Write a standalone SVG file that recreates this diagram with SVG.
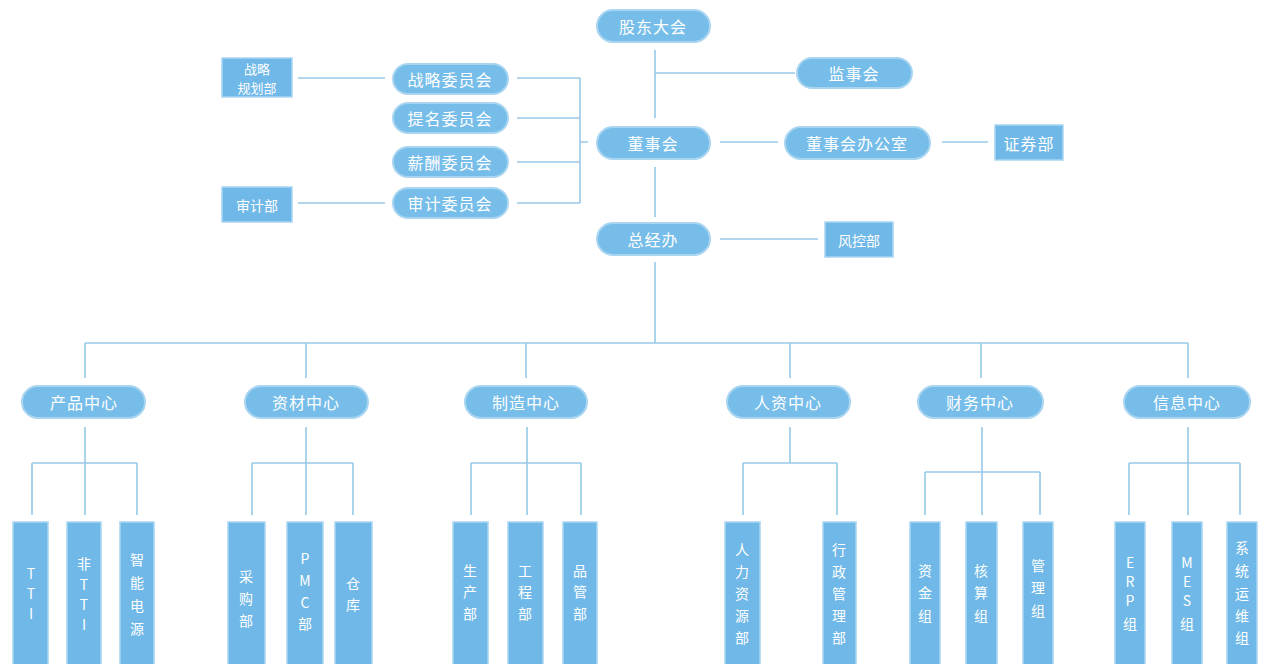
<svg xmlns="http://www.w3.org/2000/svg" width="1265" height="664" viewBox="0 0 1265 664">
<style>
.pill{fill:#76bde9;stroke:#a9d5f1;stroke-width:2}
.box{fill:#6fb8e7;stroke:#a9d5f1;stroke-width:1.5}
.ln{stroke:#98c9e8;stroke-width:1.6;fill:none}
.pt{font-family:"Noto Sans CJK SC","Noto Sans",sans-serif;font-size:16px;fill:#ffffff;text-anchor:middle;dominant-baseline:central;letter-spacing:1px}
.bt{font-family:"Noto Sans CJK SC","Noto Sans",sans-serif;font-size:14px;fill:#ffffff;text-anchor:middle;dominant-baseline:central}
.st{font-family:"Noto Sans CJK SC","Noto Sans",sans-serif;font-size:13px;fill:#ffffff;text-anchor:middle;dominant-baseline:central}
</style>
<rect width="1265" height="664" fill="#ffffff"/>
<g id="connectors">
<path class="ln" d="M655 50V118M655 73H795M655 167V217M720 142H778M942 142H988M720 239H818M655 262V343"/>
<path class="ln" d="M298 78H385M298 203H385M517 78H580M517 118H580M517 162H580M517 203H580M580 78V203M580 142H588"/>
<path class="ln" d="M85 343H1188M85 343V378M306 343V378M526 343V378M790 343V378M981 343V378M1188 343V378"/>
<path class="ln" d="M85 427V515M32 463H137M32 463V515M137 463V515"/>
<path class="ln" d="M306 427V515M252 463H353M252 463V515M353 463V515"/>
<path class="ln" d="M527 427V515M471 463H581M471 463V515M581 463V515"/>
<path class="ln" d="M790 427V463M743 463H837M743 463V515M837 463V515"/>
<path class="ln" d="M982 427V515M925 472H1040M925 472V515M1040 472V515"/>
<path class="ln" d="M1188 427V515M1129 463H1240M1129 463V515M1240 463V515"/>
</g>
<g id="gudong"><rect class="pill" x="597" y="10" width="113" height="32" rx="16"/><text class="pt" x="653" y="26">股东大会</text></g>
<g id="jianshi"><rect class="pill" x="797" y="58" width="115" height="30" rx="15"/><text class="pt" x="854" y="73">监事会</text></g>
<g id="dongshi"><rect class="pill" x="597" y="127" width="113" height="32" rx="16"/><text class="pt" x="653" y="143">董事会</text></g>
<g id="dongban"><rect class="pill" x="785" y="127" width="145" height="32" rx="16"/><text class="pt" x="857" y="143">董事会办公室</text></g>
<g id="zhengquan"><rect class="box" x="995" y="125" width="68" height="35"/><text class="pt" x="1029" y="143">证券部</text></g>
<g id="zongjing"><rect class="pill" x="597" y="223" width="113" height="32" rx="16"/><text class="pt" x="653" y="239">总经办</text></g>
<g id="fengkong"><rect class="box" x="825" y="222" width="68" height="35"/><text class="bt" x="859" y="240">风控部</text></g>
<g id="zhanlue-wyh"><rect class="pill" x="393" y="64" width="115" height="30" rx="15"/><text class="pt" x="450" y="79">战略委员会</text></g>
<g id="timing-wyh"><rect class="pill" x="393" y="103" width="115" height="30" rx="15"/><text class="pt" x="450" y="118">提名委员会</text></g>
<g id="xinchou-wyh"><rect class="pill" x="393" y="147" width="115" height="30" rx="15"/><text class="pt" x="450" y="162">薪酬委员会</text></g>
<g id="shenji-wyh"><rect class="pill" x="393" y="188" width="115" height="30" rx="15"/><text class="pt" x="450" y="203">审计委员会</text></g>
<g id="zhanlue-bu"><rect class="box" x="222" y="58" width="70" height="39"/><text class="st" x="257" y="68">战略</text><text class="st" x="257" y="87">规划部</text></g>
<g id="shenji-bu"><rect class="box" x="222" y="187" width="70" height="35"/><text class="bt" x="257" y="205">审计部</text></g>
<g id="chanpin"><rect class="pill" x="22" y="386" width="123" height="32" rx="16"/><text class="pt" x="84" y="402">产品中心</text></g>
<g id="zicai"><rect class="pill" x="245" y="386" width="123" height="32" rx="16"/><text class="pt" x="306" y="402">资材中心</text></g>
<g id="zhizao"><rect class="pill" x="465" y="386" width="122" height="32" rx="16"/><text class="pt" x="526" y="402">制造中心</text></g>
<g id="renzi"><rect class="pill" x="727" y="386" width="123" height="32" rx="16"/><text class="pt" x="788" y="402">人资中心</text></g>
<g id="caiwu"><rect class="pill" x="918" y="386" width="125" height="32" rx="16"/><text class="pt" x="980" y="402">财务中心</text></g>
<g id="xinxi"><rect class="pill" x="1124" y="386" width="126" height="32" rx="16"/><text class="pt" x="1187" y="402">信息中心</text></g>
<g id="tti"><rect class="box" x="13" y="522" width="35" height="150"/><text class="bt"><tspan x="31" y="573">T</tspan><tspan x="31" y="593">T</tspan><tspan x="31" y="613">I</tspan></text></g>
<g id="feitti"><rect class="box" x="67" y="522" width="34" height="150"/><text class="bt"><tspan x="84" y="563">非</tspan><tspan x="84" y="584">T</tspan><tspan x="84" y="604">T</tspan><tspan x="84" y="624">I</tspan></text></g>
<g id="zhineng"><rect class="box" x="120" y="522" width="34" height="150"/><text class="bt"><tspan x="137" y="559">智</tspan><tspan x="137" y="582">能</tspan><tspan x="137" y="605">电</tspan><tspan x="137" y="628">源</tspan></text></g>
<g id="caigou"><rect class="box" x="228" y="522" width="37" height="150"/><text class="bt"><tspan x="246" y="576">采</tspan><tspan x="246" y="598">购</tspan><tspan x="246" y="620">部</tspan></text></g>
<g id="pmc"><rect class="box" x="287" y="522" width="36" height="150"/><text class="bt"><tspan x="305" y="558">P</tspan><tspan x="305" y="580">M</tspan><tspan x="305" y="602">C</tspan><tspan x="305" y="623">部</tspan></text></g>
<g id="cangku"><rect class="box" x="335" y="522" width="37" height="150"/><text class="bt"><tspan x="353" y="583">仓</tspan><tspan x="353" y="604">库</tspan></text></g>
<g id="shengchan"><rect class="box" x="453" y="522" width="35" height="150"/><text class="bt"><tspan x="470" y="570">生</tspan><tspan x="470" y="591">产</tspan><tspan x="470" y="613">部</tspan></text></g>
<g id="gongcheng"><rect class="box" x="508" y="522" width="35" height="150"/><text class="bt"><tspan x="525" y="570">工</tspan><tspan x="525" y="591">程</tspan><tspan x="525" y="613">部</tspan></text></g>
<g id="pinguan"><rect class="box" x="563" y="522" width="34" height="150"/><text class="bt"><tspan x="580" y="570">品</tspan><tspan x="580" y="591">管</tspan><tspan x="580" y="613">部</tspan></text></g>
<g id="renli"><rect class="box" x="725" y="522" width="35" height="150"/><text class="bt"><tspan x="742" y="549">人</tspan><tspan x="742" y="571">力</tspan><tspan x="742" y="593">资</tspan><tspan x="742" y="615">源</tspan><tspan x="742" y="637">部</tspan></text></g>
<g id="xingzheng"><rect class="box" x="823" y="522" width="33" height="150"/><text class="bt"><tspan x="839" y="549">行</tspan><tspan x="839" y="571">政</tspan><tspan x="839" y="593">管</tspan><tspan x="839" y="615">理</tspan><tspan x="839" y="637">部</tspan></text></g>
<g id="zijin"><rect class="box" x="910" y="522" width="30" height="150"/><text class="bt"><tspan x="925" y="570">资</tspan><tspan x="925" y="592">金</tspan><tspan x="925" y="615">组</tspan></text></g>
<g id="hesuan"><rect class="box" x="966" y="522" width="31" height="150"/><text class="bt"><tspan x="981" y="570">核</tspan><tspan x="981" y="592">算</tspan><tspan x="981" y="615">组</tspan></text></g>
<g id="guanli"><rect class="box" x="1023" y="522" width="30" height="150"/><text class="bt"><tspan x="1038" y="565">管</tspan><tspan x="1038" y="587">理</tspan><tspan x="1038" y="610">组</tspan></text></g>
<g id="erp"><rect class="box" x="1115" y="522" width="30" height="150"/><text class="bt"><tspan x="1130" y="562">E</tspan><tspan x="1130" y="581">R</tspan><tspan x="1130" y="600">P</tspan><tspan x="1130" y="623">组</tspan></text></g>
<g id="mes"><rect class="box" x="1172" y="522" width="30" height="150"/><text class="bt"><tspan x="1187" y="562">M</tspan><tspan x="1187" y="581">E</tspan><tspan x="1187" y="600">S</tspan><tspan x="1187" y="623">组</tspan></text></g>
<g id="xitong"><rect class="box" x="1227" y="522" width="30" height="150"/><text class="bt"><tspan x="1242" y="547">系</tspan><tspan x="1242" y="570">统</tspan><tspan x="1242" y="593">运</tspan><tspan x="1242" y="615">维</tspan><tspan x="1242" y="637">组</tspan></text></g>
</svg>
